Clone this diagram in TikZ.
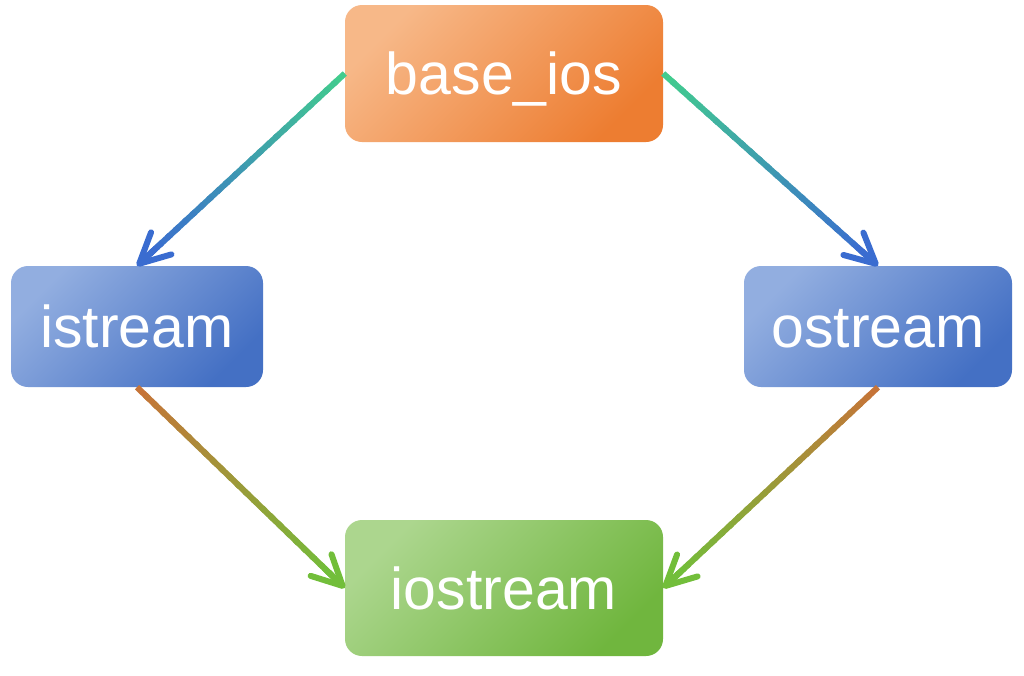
\documentclass[tikz,border=0pt]{standalone}
\usepackage{fontspec}
\setmainfont{Liberation Sans}
\usetikzlibrary{arrows.meta,calc,backgrounds}
\definecolor{orL}{RGB}{247,184,136}
\definecolor{orD}{RGB}{237,125,49}
\definecolor{blL}{RGB}{146,174,224}
\definecolor{blD}{RGB}{68,112,196}
\definecolor{grL}{RGB}{172,214,142}
\definecolor{grD}{RGB}{112,182,62}
\definecolor{aGreen}{RGB}{66,204,142}
\definecolor{aBlue}{RGB}{58,108,208}
\definecolor{aBrown}{RGB}{198,116,56}
\definecolor{aLime}{RGB}{114,190,58}
\tikzset{
  box/.style={rounded corners=17pt, text=white, inner sep=0pt,
    font=\fontsize{59}{60}\selectfont, text height=42pt, text depth=0pt},
  orangebox/.style={box, top color=orL, bottom color=orD, shading angle=45},
  bluebox/.style={box, top color=blL, bottom color=blD, shading angle=45},
  greenbox/.style={box, top color=grL, bottom color=grD, shading angle=45},
  conn/.style={line width=6pt, line cap=butt},
  conntip/.style={line width=6pt, -{Straight Barb[length=30pt,width=30pt,round]}},
  glow/.style={fill=#1, opacity=0.10, rounded corners=20pt}
}
\newcommand\gradconn[4]{%
  \foreach \i in {0,...,23}{%
    \pgfmathsetmacro\ta{\i*0.04}%
    \pgfmathsetmacro\tb{(\i+1.4)*0.04}%
    \pgfmathtruncatemacro\p{100-\i*100/23}%
    \draw[conn, color=#3!\p!#4] ($(#1)!\ta!(#2)$) -- ($(#1)!\tb!(#2)$);
  }%
  \draw[conntip, color=#4] ($(#1)!0.9!(#2)$) -- (#2);
}
\newcommand\boxglow[2]{%
  \foreach \d in {2,4,6}{%
    \fill[glow=#2] ($(#1.north west)+(-\d/2,-\d/3)$) rectangle ($(#1.south east)+(\d/2,\d)$);
  }%
}
\begin{document}
\begin{tikzpicture}[x=1pt,y=-1pt]
  \useasboundingbox[fill=white] (0,0) rectangle (1024,675);
  \node[orangebox, minimum width=318pt, minimum height=137pt] (base) at (504,73.5) {base\_ios};
  \node[bluebox, minimum width=252pt, minimum height=121pt] (is) at (137,326.5) {istream};
  \node[bluebox, minimum width=268pt, minimum height=121pt] (os) at (878,326.5) {ostream};
  \node[greenbox, minimum width=318pt, minimum height=136pt] (io) at (504,588) {iostream};
  \begin{pgfonlayer}{background}
    \boxglow{base}{orD}
    \boxglow{is}{blD}
    \boxglow{os}{blD}
    \boxglow{io}{grD}
  \end{pgfonlayer}
  \gradconn{base.west}{is.north}{aGreen}{aBlue}
  \gradconn{base.east}{os.north}{aGreen}{aBlue}
  \gradconn{is.south}{io.west}{aBrown}{aLime}
  \gradconn{os.south}{io.east}{aBrown}{aLime}
\end{tikzpicture}
\end{document}
